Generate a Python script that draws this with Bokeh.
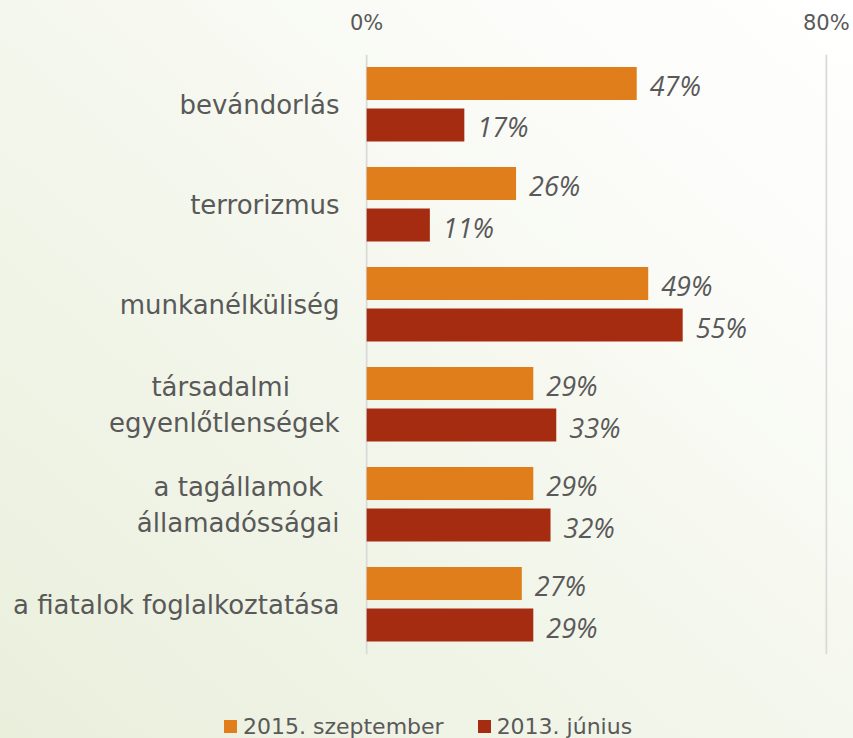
from bokeh.plotting import figure
from bokeh.layouts import column
from bokeh.models import (ColumnDataSource, FactorRange, FixedTicker, PrintfTickFormatter,
                          LabelSet, Div, InlineStyleSheet)
from bokeh.core.properties import value
from bokeh.transform import dodge
from bokeh.embed import file_html
from bokeh.resources import INLINE

NB = "\u00a0"
# category tick labels (shorter line of two-line labels padded so it sits centred)
categories = ["bevándorlás", "terrorizmus", "munkanélküliség",
              "társadalmi" + NB * 6 + "\negyenlőtlenségek",
              "a tagállamok" + NB * 2 + "\nállamadósságai",
              "a fiatalok foglalkoztatása"]
sep_2015 = [47, 26, 49, 29, 29, 27]
jun_2013 = [17, 11, 55, 33, 32, 29]
series_names = ["2015. szeptember", "2013. június"]
x_ticks = [0, 80]

ORANGE = "#DF7E1A"
RED = "#A52C10"
GRAY = "#595959"
FONT = "DejaVu Sans"

src = ColumnDataSource(dict(
    cat=categories,
    s2015=sep_2015,
    s2013=jun_2013,
    l2015=[f"{v}%" for v in sep_2015],
    l2013=[f"{v}%" for v in jun_2013],
))

p = figure(width=853, height=700, output_backend="svg", toolbar_location=None,
           y_range=FactorRange(factors=list(reversed(categories)), range_padding=0),
           x_range=(-0.2, 80.2), x_axis_location="above",
           min_border_left=365, min_border_right=26, min_border_top=54, min_border_bottom=46)
p.background_fill_alpha = 0
p.border_fill_alpha = 0
p.outline_line_color = None

r1 = p.hbar(y=dodge("cat", 0.21, range=p.y_range), right="s2015", left=0, height=0.33,
            source=src, fill_color=ORANGE, line_color=None)
r2 = p.hbar(y=dodge("cat", -0.205, range=p.y_range), right="s2013", left=0, height=0.33,
            source=src, fill_color=RED, line_color=None)

for col, lab, off in (("s2015", "l2015", 0.21), ("s2013", "l2013", -0.205)):
    ls = LabelSet(x=col, y=dodge("cat", off, range=p.y_range), text=lab, source=src,
                  x_offset=13, y_offset=-2, text_baseline="middle", text_align="left",
                  text_font=value("Open Sans"), text_font_style="italic",
                  text_font_size="27px", text_color=GRAY)
    p.add_layout(ls)

p.xgrid.ticker = FixedTicker(ticks=x_ticks)
p.xgrid.grid_line_color = "#d9d9d9"
p.xgrid.grid_line_width = 2
p.ygrid.grid_line_color = None

xa = p.xaxis[0]
xa.ticker = FixedTicker(ticks=x_ticks)
xa.formatter = PrintfTickFormatter(format="%d%%")
xa.axis_line_color = None
xa.major_tick_line_color = None
xa.minor_tick_line_color = None
xa.major_tick_out = 0
xa.major_label_standoff = 20
xa.major_label_text_font = FONT
xa.major_label_text_font_size = "21px"
xa.major_label_text_color = GRAY

ya = p.yaxis[0]
ya.axis_line_color = None
ya.major_tick_line_color = None
ya.major_tick_out = 0
ya.major_label_standoff = 26
ya.major_label_text_font = FONT
ya.major_label_text_font_size = "26px"
ya.major_label_text_color = GRAY

# legend strip (HTML)
swatch = ('<span style="display:inline-block;width:13px;height:13px;background:{c};'
          'margin-right:6px;vertical-align:1px"></span>')
items = "".join(
    f'<span style="margin-right:34px">{swatch.format(c=c)}{name}</span>'
    for c, name in zip([ORANGE, RED], series_names))
legend = Div(text=items, width=853, height=38,
             styles={"font-family": FONT, "font-size": "22px", "color": GRAY,
                     "padding-left": "219px", "padding-top": "6px", "white-space": "nowrap",
                     "box-sizing": "border-box"})

layout = column(p, legend, spacing=0)
layout.stylesheets = [InlineStyleSheet(css=":host { background: linear-gradient(to top right, #eaefdc 0%, #f3f6eb 45%, #fbfcf8 75%, #ffffff 100%); }")]

open("out.html", "w").write(file_html(layout, INLINE))
